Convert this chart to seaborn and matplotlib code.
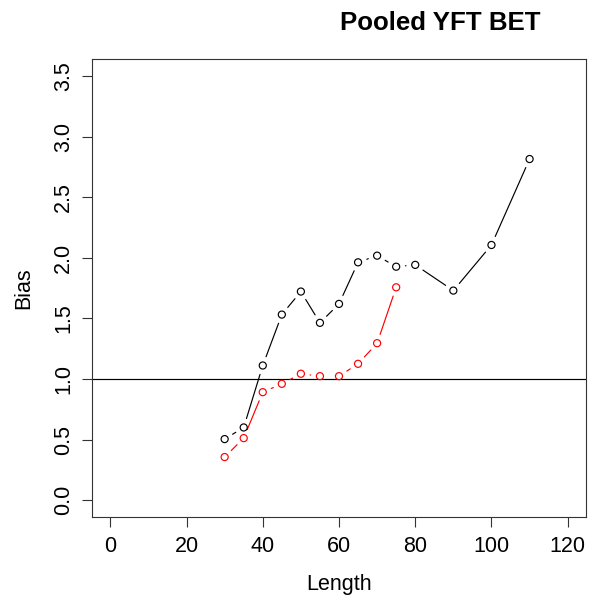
import numpy as np
import pandas as pd
import matplotlib
matplotlib.use("Agg")
import matplotlib.pyplot as plt
import seaborn as sns

# Data
length_all = [30, 35, 40, 45, 50, 55, 60, 65, 70, 75, 80, 90, 100, 110]
bias_all = [0.505, 0.601, 1.112, 1.532, 1.722, 1.464, 1.620, 1.963, 2.018,
            1.927, 1.942, 1.730, 2.106, 2.815]
length_red = [30, 35, 40, 45, 50, 55, 60, 65, 70, 75]
bias_red = [0.357, 0.513, 0.892, 0.961, 1.044, 1.024, 1.024, 1.126, 1.296, 1.757]
xticks = [0, 20, 40, 60, 80, 100, 120]
yticks = [0.0, 0.5, 1.0, 1.5, 2.0, 2.5, 3.0, 3.5]
title = "Pooled YFT BET"

sns.set_style("white")
plt.rcParams['font.family'] = ['Liberation Sans', 'DejaVu Sans']
plt.rcParams['text.color'] = 'black'
plt.rcParams['axes.labelcolor'] = 'black'
plt.rcParams['xtick.color'] = 'black'
plt.rcParams['ytick.color'] = 'black'

W, H = 608, 601
fig = plt.figure(figsize=(W / 100, H / 100), dpi=100)
ax = fig.add_axes([92 / W, (H - 517.3) / H, (586 - 92) / W, (517.3 - 59) / H])

ax.set_xlim(-4.8, 124.8)
ax.set_ylim(-0.14, 3.64)

GAP_PT = 6.7
GAP_PX = GAP_PT * 100 / 72


def draw_b(x, y, color):
    # R type="b": gapped segments between points
    for i in range(len(x) - 1):
        p1 = ax.transData.transform((x[i], y[i]))
        p2 = ax.transData.transform((x[i + 1], y[i + 1]))
        if np.hypot(*(p2 - p1)) > 2 * GAP_PX + 0.5:
            ax.annotate("", xy=(x[i + 1], y[i + 1]), xytext=(x[i], y[i]),
                        arrowprops=dict(arrowstyle="-", color=color, lw=0.85,
                                        shrinkA=GAP_PT, shrinkB=GAP_PT),
                        zorder=2)
    sns.scatterplot(x=x, y=y, ax=ax, s=26, color=color, facecolor="none",
                    edgecolor=color, linewidth=0.85, zorder=3, legend=False)


draw_b(length_all, bias_all, "black")
draw_b(length_red, bias_red, "red")

ax.axhline(1.0, color="black", lw=0.85, zorder=1)

ax.set_xticks(xticks)
ax.set_xticklabels([str(v) for v in xticks])
ax.set_yticks(yticks)
ax.set_yticklabels([f"{v:.1f}" for v in yticks], rotation=90, va="center")

ax.tick_params(axis="both", which="both", direction="out", length=7.2,
               width=0.8, color="#333333", labelcolor="black", labelsize=15.5,
               bottom=True, left=True)
ax.tick_params(axis="x", pad=6.5)
ax.tick_params(axis="y", pad=5.5)

for s in ax.spines.values():
    s.set_color("#333333")
    s.set_linewidth(0.8)

ax.set_xlabel("Length", fontsize=15.5, labelpad=12, color="black")
ax.set_ylabel("Bias", fontsize=15.5, labelpad=14, color="black")

fig.text(440 / W, 1 - 30 / H, title, ha="center", va="baseline",
         fontsize=18.6, fontweight="bold", color="black")

fig.savefig("out.png", dpi=100, facecolor="white")
